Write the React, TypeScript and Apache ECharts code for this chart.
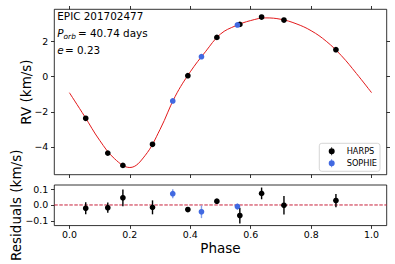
import React, { useEffect, useRef } from "react";
import * as echarts from "echarts";

// ---- data ----
const phaseTicks = [0, 0.2, 0.4, 0.6, 0.8, 1.0];
const rvTicks = [-4, -2, 0, 2];
const resTicks = [-0.1, 0, 0.1];

const harpsPhase = [0.054, 0.127, 0.177, 0.275, 0.392, 0.488, 0.564, 0.636, 0.71, 0.882];
const harpsRV = [-2.37, -4.35, -5.05, -3.85, 0.06, 2.24, 2.98, 3.4, 3.23, 1.54];
const harpsRes = [-0.021, -0.017, 0.045, -0.015, -0.029, 0.024, -0.067, 0.073, -0.002, 0.028];
const harpsErr = [0.038, 0.032, 0.053, 0.044, 0.008, 0.008, 0.05, 0.037, 0.058, 0.042];

const sophiePhase = [0.342, 0.437, 0.556];
const sophieRV = [-1.38, 1.14, 2.95];
const sophieRes = [0.071, -0.043, -0.01];
const sophieErr = [0.028, 0.04, 0.02];

const modelPhase = [0, 0.05, 0.1, 0.15, 0.2, 0.25, 0.3, 0.35, 0.4, 0.45, 0.5, 0.55, 0.6, 0.65, 0.7, 0.75, 0.8, 0.85, 0.9, 0.95, 1.0];
const modelRV = [-0.91, -2.25, -3.62, -4.68, -5.17, -4.5, -3.0, -1.12, 0.28, 1.42, 2.43, 2.9, 3.2, 3.35, 3.27, 3.02, 2.62, 2.02, 1.2, 0.18, -0.91];

const zeroLineX = [-0.05, 1.05];
const zeroLineY = [0, 0];

const FONT = "DejaVu Sans";
const BLUE = "#4169E1";
const BLUE_ERR = "#86a0ea";

const minus = (s: string) => s.replace("-", "\u2212");

const errSeries = (name: string, xs: number[], ys: number[], es: number[], color: string, xi: number, yi: number) => ({
  type: "custom",
  name,
  xAxisIndex: xi,
  yAxisIndex: yi,
  z: 3,
  silent: true,
  data: xs.map((x, i) => [x, ys[i], es[i]]),
  encode: { x: 0, y: 1 },
  renderItem: (params: any, api: any) => {
    const x = api.value(0);
    const y = api.value(1);
    const e = api.value(2);
    const p1 = api.coord([x, y - e]);
    const p2 = api.coord([x, y + e]);
    return {
      type: "line",
      shape: { x1: p1[0], y1: p1[1], x2: p2[0], y2: p2[1] },
      style: { stroke: color, lineWidth: 1.4 },
    };
  },
});

const legendIcon =
  "path://M2.6,0 L3.4,0 L3.4,1.2 L2.6,1.2 Z M2.6,6.8 L3.4,6.8 L3.4,8 L2.6,8 Z M0,4 A3,3 0 1 1 6,4 A3,3 0 1 1 0,4 Z";

const tickLine = { color: "#000", width: 0.8 };
const noLine = { show: false, onZero: false };

const xAxisBase = {
  type: "value",
  min: -0.05,
  max: 1.05,
  axisLine: noLine,
  splitLine: { show: false },
  axisTick: { show: true, inside: false, length: 3.3, lineStyle: tickLine, customValues: phaseTicks },
};

export default function App() {
  const ref = useRef<HTMLDivElement>(null);
  useEffect(() => {
    if (!ref.current) return;
    const chart = echarts.init(ref.current, null, { renderer: "svg" });
    const option: any = {
      animation: false,
      backgroundColor: "#fff",
      textStyle: { fontFamily: FONT },
      grid: [
        { left: 54.3, top: 9.3, width: 332.4, height: 165.4, show: true, borderColor: "#000", borderWidth: 0.8, backgroundColor: "transparent" },
        { left: 54.3, top: 185, width: 332.4, height: 41, show: true, borderColor: "#000", borderWidth: 0.8, backgroundColor: "transparent" },
      ],
      xAxis: [
        { ...xAxisBase, gridIndex: 0, position: "bottom", axisLabel: { show: false } },
        { ...xAxisBase, gridIndex: 0, position: "top", axisLabel: { show: false } },
        {
          ...xAxisBase,
          gridIndex: 1,
          position: "bottom",
          name: "Phase",
          nameLocation: "middle",
          nameGap: 15,
          nameMoveOverlap: false,
          nameTextStyle: { fontSize: 13.5, fontFamily: FONT, color: "#000" },
          axisLabel: {
            show: true,
            customValues: phaseTicks,
            fontSize: 9.45,
            fontFamily: FONT,
            color: "#000",
            margin: 4,
            formatter: (v: number) => v.toFixed(1),
          },
        },
      ],
      yAxis: [
        {
          type: "value",
          gridIndex: 0,
          position: "left",
          min: -5.58,
          max: 3.84,
          axisLine: noLine,
          splitLine: { show: false },
          axisTick: { show: true, length: 3.3, lineStyle: tickLine, customValues: rvTicks },
          axisLabel: {
            customValues: rvTicks,
            fontSize: 9.45,
            fontFamily: FONT,
            color: "#000",
            margin: 6,
            formatter: (v: number) => minus(String(v)),
          },
          name: "RV (km/s)",
          nameLocation: "middle",
          nameGap: 21,
          nameMoveOverlap: false,
          nameTextStyle: { fontSize: 13.5, fontFamily: FONT, color: "#000" },
        },
        {
          type: "value",
          gridIndex: 0,
          position: "right",
          min: -5.58,
          max: 3.84,
          axisLine: noLine,
          splitLine: { show: false },
          axisTick: { show: true, length: 3.3, lineStyle: tickLine, customValues: rvTicks },
          axisLabel: { show: false },
        },
        {
          type: "value",
          gridIndex: 1,
          position: "left",
          min: -0.13,
          max: 0.126,
          axisLine: noLine,
          splitLine: { show: false },
          axisTick: { show: true, length: 3.3, lineStyle: tickLine, customValues: resTicks },
          axisLabel: {
            customValues: resTicks,
            fontSize: 9.45,
            fontFamily: FONT,
            color: "#000",
            margin: 6,
            formatter: (v: number) => minus(v.toFixed(1)),
          },
          name: "Residuals (km/s)",
          nameLocation: "middle",
          nameGap: 31.5,
          nameMoveOverlap: false,
          nameTextStyle: { fontSize: 13.5, fontFamily: FONT, color: "#000" },
        },
      ],
      legend: {
        orient: "vertical",
        left: 319.3,
        top: 143.3,
        padding: [3, 3, 3, 9.4],
        itemWidth: 6,
        itemHeight: 8,
        itemGap: 2,
        borderColor: "#cccccc",
        borderWidth: 0.8,
        borderRadius: 2.5,
        backgroundColor: "#ffffff",
        textStyle: { fontSize: 8.2, fontFamily: FONT, color: "#000", lineHeight: 10, padding: [0, 0, 0, 7] },
        data: [
          { name: "HARPS", icon: legendIcon },
          { name: "SOPHIE", icon: legendIcon },
        ],
      },
      series: [
        {
          type: "line",
          name: "model",
          xAxisIndex: 0,
          yAxisIndex: 0,
          data: modelPhase.map((p, i) => [p, modelRV[i]]),
          smooth: 0.4,
          showSymbol: false,
          symbol: "none",
          z: 1,
          lineStyle: { color: "#e31a1c", width: 1 },
          silent: true,
        },
        errSeries("harpsErrTop", harpsPhase, harpsRV, harpsErr, "#000", 0, 0),
        errSeries("sophieErrTop", sophiePhase, sophieRV, sophieErr, BLUE_ERR, 0, 0),
        {
          type: "scatter",
          name: "HARPS",
          xAxisIndex: 0,
          yAxisIndex: 0,
          symbolSize: 5.7,
          itemStyle: { color: "#000", opacity: 1 },
          z: 4,
          data: harpsPhase.map((p, i) => [p, harpsRV[i]]),
        },
        {
          type: "scatter",
          name: "SOPHIE",
          xAxisIndex: 0,
          yAxisIndex: 0,
          symbolSize: 5.7,
          itemStyle: { color: BLUE, opacity: 1 },
          z: 4,
          data: sophiePhase.map((p, i) => [p, sophieRV[i]]),
        },
        {
          type: "line",
          name: "zero",
          xAxisIndex: 2,
          yAxisIndex: 2,
          silent: true,
          symbol: "none",
          showSymbol: false,
          z: 2,
          data: zeroLineX.map((x, i) => [x, zeroLineY[i]]),
          lineStyle: { color: "#c8203c", type: [3.5, 1.5], width: 1 },
        },
        errSeries("harpsErrRes", harpsPhase, harpsRes, harpsErr, "#000", 2, 2),
        errSeries("sophieErrRes", sophiePhase, sophieRes, sophieErr, BLUE_ERR, 2, 2),
        {
          type: "scatter",
          name: "HARPS",
          xAxisIndex: 2,
          yAxisIndex: 2,
          symbolSize: 5.7,
          itemStyle: { color: "#000", opacity: 1 },
          z: 4,
          data: harpsPhase.map((p, i) => [p, harpsRes[i]]),
        },
        {
          type: "scatter",
          name: "SOPHIE",
          xAxisIndex: 2,
          yAxisIndex: 2,
          symbolSize: 5.7,
          itemStyle: { color: BLUE, opacity: 1 },
          z: 4,
          data: sophiePhase.map((p, i) => [p, sophieRes[i]]),
        },
      ],
      graphic: [
        { type: "text", x: 57.3, y: 16.3, style: { text: "EPIC 201702477", fontSize: 10.4, fontFamily: FONT, fill: "#000", verticalAlign: "middle" } },
        { type: "text", x: 57.3, y: 33, style: { text: "P", fontSize: 10.4, fontStyle: "italic", fontFamily: FONT, fill: "#000", verticalAlign: "middle" } },
        { type: "text", x: 63.6, y: 36.8, style: { text: "orb", fontSize: 7.4, fontStyle: "italic", fontFamily: FONT, fill: "#000", verticalAlign: "middle" } },
        { type: "text", x: 78, y: 33, style: { text: "= 40.74 days", fontSize: 10.4, fontFamily: FONT, fill: "#000", verticalAlign: "middle" } },
        { type: "text", x: 57.3, y: 50, style: { text: "e", fontSize: 10.4, fontStyle: "italic", fontFamily: FONT, fill: "#000", verticalAlign: "middle" } },
        { type: "text", x: 65, y: 50, style: { text: "= 0.23", fontSize: 10.4, fontFamily: FONT, fill: "#000", verticalAlign: "middle" } },
      ],
    };
    chart.setOption(option);
    return () => chart.dispose();
  }, []);
  return <div ref={ref} style={{ position: "fixed", left: 0, top: 0, width: 395, height: 264 }} />;
}
